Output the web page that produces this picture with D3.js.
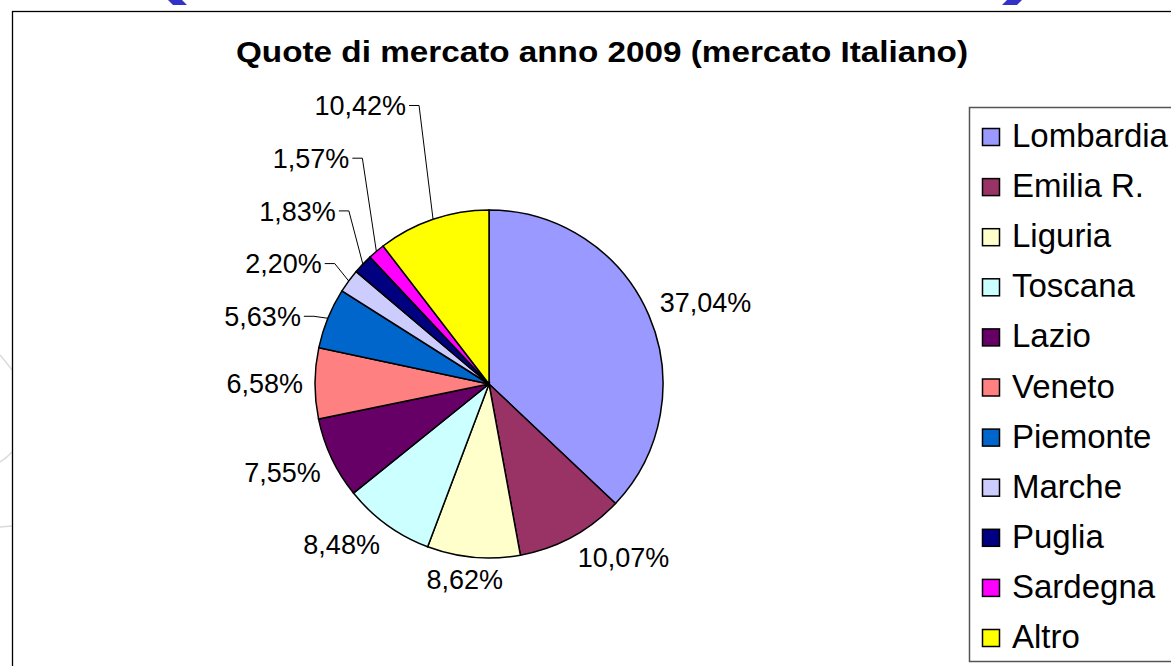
<!DOCTYPE html>
<meta charset="utf-8">
<style>
    body { margin: 0; background: #fff; }
    text { font-family: Arial, "Liberation Sans", sans-serif; fill: #000; }
    path.slice { stroke: #000; stroke-width: 1.5; }
    .leader { stroke: #000; stroke-width: 1; fill: none; }
</style>
<script src="https://d3js.org/d3.v7.min.js"></script>
<body>
<script>
    var regions = ["Lombardia", "Emilia R.", "Liguria", "Toscana", "Lazio", "Veneto",
                   "Piemonte", "Marche", "Puglia", "Sardegna", "Altro"];
    var shares = [37.04, 10.07, 8.62, 8.48, 7.55, 6.58, 5.63, 2.20, 1.83, 1.57, 10.42];
    var colors = ["#9999ff", "#993366", "#ffffcc", "#ccffff", "#660066", "#ff8080",
                  "#0066cc", "#ccccff", "#000080", "#ff00ff", "#ffff00"];
    // labels that were dragged away from the pie and get a leader line
    var movedLabels = ["Piemonte", "Marche", "Puglia", "Sardegna", "Altro"];
    var title = "Quote di mercato anno 2009 (mercato Italiano)";

    var width = 1171;
    var height = 666;
    var cx = 489, cy = 384, radius = 174;
    var labelSize = 27;

    var svg = d3.select("body").append("svg")
        .attr("width", width)
        .attr("height", height);

    // slide background bits peeking out around the chart
    svg.append("g").selectAll("path")
        .data([[[168, 0], [182, 0], [187, 5], [173, 5]], [[1007, 0], [1022, 0], [1017, 5], [1002, 5]]])
        .enter().append("path")
        .attr("d", function(p) { return d3.line()(p) + "Z"; })
        .attr("fill", "#3232c8");
    svg.append("g").selectAll("path")
        .data([[[0, 355], [6, 362], [12, 370]], [[0, 462], [6, 458], [12, 452]], [[0, 527], [12, 526]]])
        .enter().append("path")
        .attr("d", d3.line().curve(d3.curveBasis))
        .attr("fill", "none").attr("stroke", "#d8dcd8").attr("stroke-width", 1.5);

    svg.append("rect")
        .attr("x", 12.5).attr("y", 11.5)
        .attr("width", 1300).attr("height", 800)
        .attr("fill", "#fff").attr("stroke", "#000").attr("stroke-width", 1.3);

    svg.append("text")
        .attr("x", 602).attr("y", 62)
        .attr("text-anchor", "middle")
        .attr("textLength", 732)
        .attr("lengthAdjust", "spacingAndGlyphs")
        .style("font-weight", "bold")
        .style("font-size", "30px")
        .text(title);

    var data = regions.map(function(r, i) { return { name: r, value: shares[i], color: colors[i] }; });

    var pie = d3.pie().sort(null).value(function(d) { return d.value; });
    var arc = d3.arc().innerRadius(0).outerRadius(radius);
    var arcs = pie(data);

    var g = svg.append("g").attr("transform", "translate(" + cx + "," + cy + ")");

    g.selectAll("path.slice")
        .data(arcs)
        .enter().append("path")
        .attr("class", "slice")
        .attr("fill", function(d) { return d.data.color; })
        .attr("d", arc);

    function clamp(v) { return Math.max(-1, Math.min(1, v)); }
    function fmt(v) { return v.toFixed(2).replace(".", ",") + "%"; }

    var labels = g.selectAll("text.lbl")
        .data(arcs)
        .enter().append("text")
        .attr("class", "lbl")
        .style("font-size", labelSize + "px")
        .text(function(d) { return fmt(d.data.value); });

    var capH = labelSize * 0.72;
    var rowGap = 52.7;
    var firstMoved = null, movedIdx = 0;

    labels.each(function(d) {
        var a = (d.startAngle + d.endAngle) / 2;
        var ux = Math.sin(a), uy = -Math.cos(a);
        var w = this.getComputedTextLength();
        var el = d3.select(this);

        if (movedLabels.indexOf(d.data.name) < 0) {
            var px = ux * (radius + 12), py = uy * (radius + 12);
            var bx = px + clamp(ux / 0.45) * w / 2;
            var by = py + clamp(uy / 0.45) * capH / 2;
            el.attr("x", bx).attr("y", by + capH / 2).attr("text-anchor", "middle");
        } else {
            var ex = ux * radius, ey = uy * radius;
            if (firstMoved === null) firstMoved = ey - 2;
            var yc = firstMoved - movedIdx * rowGap;
            movedIdx++;
            var right = ex - 27;
            el.attr("x", right).attr("y", yc + capH / 2).attr("text-anchor", "end");
            g.append("path")
                .attr("class", "leader")
                .attr("d", d3.line()([[right + 3, yc], [right + 13, yc], [ex, ey]]));
        }
    });

    // legend
    var legend = svg.append("g");
    legend.append("rect")
        .attr("x", 969.5).attr("y", 107.5)
        .attr("width", 300).attr("height", 554)
        .attr("fill", "#fff").attr("stroke", "#555").attr("stroke-width", 1.5);

    var yRow = d3.scalePoint().domain(regions).range([147, 648]);

    var items = legend.selectAll("g.item")
        .data(data)
        .enter().append("g")
        .attr("class", "item")
        .attr("transform", function(d) { return "translate(0," + yRow(d.name) + ")"; });

    items.append("rect")
        .attr("x", 982.5).attr("y", -18.5)
        .attr("width", 17).attr("height", 17)
        .attr("fill", function(d) { return d.color; })
        .attr("stroke", "#000").attr("stroke-width", 1.5);

    items.append("text")
        .attr("x", 1012).attr("y", 0)
        .style("font-size", "33px")
        .text(function(d) { return d.name; });
</script>
